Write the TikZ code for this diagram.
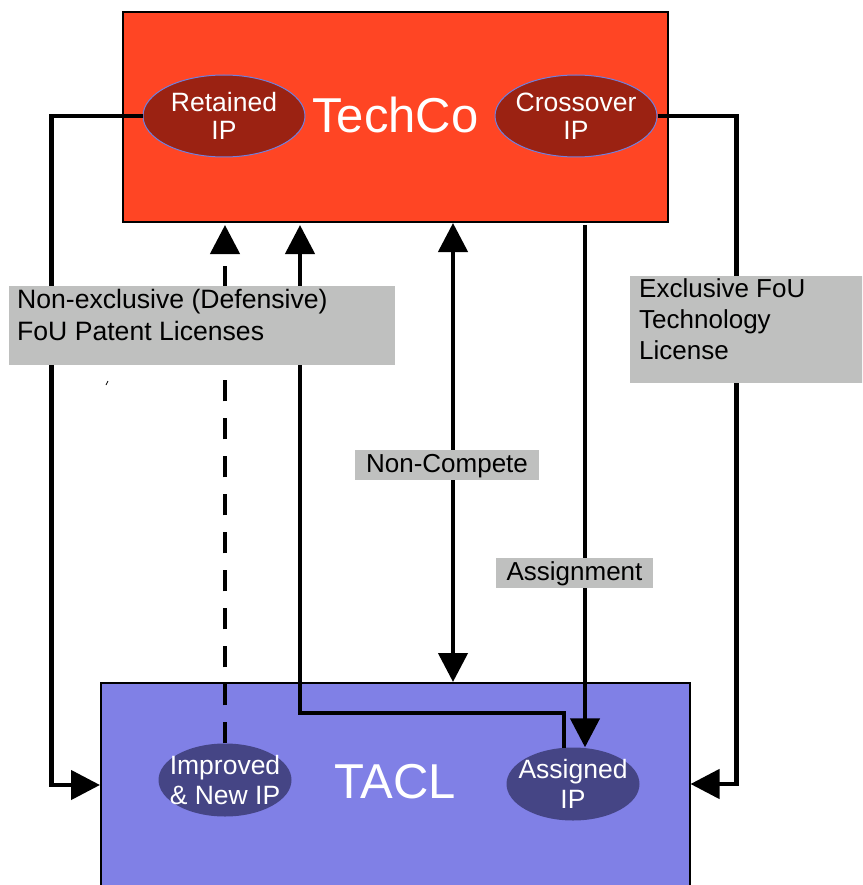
\documentclass[tikz,border=0pt]{standalone}
\usepackage{fontspec}
\setmainfont{Liberation Sans}
\usetikzlibrary{arrows.meta,shapes.geometric,calc}

\definecolor{techred}{HTML}{FF4524}
\definecolor{ipred}{HTML}{9B2212}
\definecolor{ipedge}{HTML}{7080E0}
\definecolor{taclblue}{HTML}{8080E6}
\definecolor{ipnavy}{HTML}{454585}
\definecolor{labgray}{HTML}{BFC0BF}

\begin{document}
\begin{tikzpicture}[x=1pt,y=-1pt,
  >={Triangle[length=29pt,width=29pt]},
  party/.style={rectangle, draw=black, inner sep=0pt, anchor=north west,
    text=white, font=\fontsize{49}{58}\selectfont},
  % negative inner xsep lets the minimum size fix the ellipse, not the text
  ipupper/.style={ellipse, fill=ipred, draw=ipedge, line width=1pt,
    inner xsep=-40pt, inner ysep=0pt,
    minimum width=162pt, minimum height=82pt, align=center, text=white,
    font=\fontsize{26.5}{28}\selectfont},
  iplower/.style={ellipse, fill=ipnavy, inner xsep=-40pt, inner ysep=0pt,
    minimum width=133pt, minimum height=73pt, align=center, text=white,
    font=\fontsize{26.5}{30}\selectfont},
  link/.style={line width=4.5pt, draw=black},
  tag/.style={rectangle, fill=labgray, inner ysep=0pt, text=black,
    font=\fontsize{26}{31}\selectfont},
  shorttag/.style={tag, inner xsep=0pt, text height=19.5pt, text depth=4.5pt,
    minimum height=30pt}
]
\useasboundingbox (0,0) rectangle (862,885);
\clip (0,0) rectangle (862,885);

% the two parties
\node[party, fill=techred, line width=2pt, minimum width=545pt, minimum height=210pt,
      text depth=4pt] (techco) at (122,11) {TechCo};
\node[party, fill=taclblue, line width=1.5pt, minimum width=589pt, minimum height=220pt,
      text depth=22pt] (tacl) at (100,682) {TACL};

% IP held by each party
\node[ipupper] (ret) at (224,116) {Retained\\IP};
\node[ipupper] (cro) at (576,116) {Crossover\\IP};
\node[iplower] (imp) at (225,780) {Improved\\\& New IP};
\node[iplower] (asg) at (573,784) {Assigned\\IP};

% helper positions for the vertical runs
\coordinate (yl) at (0,785);
\coordinate (yr) at (0,784);
\coordinate (xr) at (300,0);
\coordinate (xm) at (453,0);
\coordinate (xa) at (585,0);

% licences from TechCo to TACL
\draw[link,->] (ret.west) -- ++(-91,0) |- (tacl.west |- yl);
\draw[link,->] (cro.east) -- ++(79,0) |- (tacl.east |- yr);

% flows between the parties
\draw[link,->,dash pattern=on 21pt off 17pt,shorten >=2pt] (imp.north) -- (imp.north |- techco.south);
\draw[link,->,shorten >=2pt] ($(asg.north)+(-9,0.5)$) -- ++(0,-35) -| (techco.south -| xr);
\draw[link,<->] (techco.south -| xm) -- (tacl.north -| xm);
\draw[link,->,shorten <=2pt] (techco.south -| xa) -- (asg.north -| xa);

% stray tick
\draw[line width=0.8pt] (106,385) -- (108,381);

% agreement labels
\node[tag, anchor=north west, inner xsep=8pt, font=\fontsize{26.6}{32}\selectfont] (nonex) at (9,286)
  {\parbox[b][79pt][t]{370pt}{\raggedright\strut Non-exclusive (Defensive)\\FoU Patent Licenses}};
\node[tag, anchor=north west, inner xsep=9pt] (excl) at (630,276)
  {\parbox[b][107pt][t]{230pt}{\raggedright\strut Exclusive FoU\\Technology\\License}};
\node[shorttag, minimum width=184pt] (noncomp) at (447,465) {Non-Compete};
\node[shorttag, minimum width=157pt] (assign) at (574.5,572.5) {Assignment};
\end{tikzpicture}
\end{document}
